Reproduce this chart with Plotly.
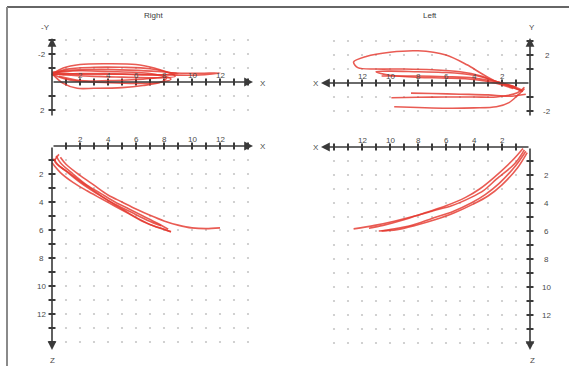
import plotly.graph_objects as go
import numpy as np

W, H = 569, 366
S = 14.0  # pixels per unit

titles = ["Right", "Left"]
even_ticks = [2, 4, 6, 8, 10, 12]

# ---- Right side, frontal view (X vs Y, Y positive downward, axis labelled -Y)
right_xy_x = [
    [0, 0.8, 2, 4, 6, 7.3, 8.3, 10, 12, 10.5, 8.5, 6, 4, 2, 0.5, 0],
    [0, 1, 3, 5, 7, 8.5, 8.8, 7.5, 5, 3, 1, 0],
    [0, 0.8, 1.8, 3, 5, 6.5, 7.8, 8.2, 6.5, 4, 2, 0.5],
    [0, 1, 2, 4, 6, 7.5, 8.5, 7, 4, 2, 0.5, 0],
    [0, 1.5, 3.5, 5.5, 7.5, 9, 7.5, 5, 3, 1, 0.2],
]
right_xy_y = [
    [-0.55, -1.0, -1.25, -1.3, -1.25, -1.0, -0.7, -0.62, -0.65, -0.5, -0.5, -0.55, -0.6, -0.6, -0.55, -0.5],
    [-0.5, -0.9, -1.05, -1.05, -0.95, -0.6, -0.4, -0.3, -0.35, -0.4, -0.5, -0.6],
    [-0.6, 0.1, 0.45, 0.45, 0.4, 0.25, 0.0, -0.3, -0.2, -0.1, -0.1, -0.4],
    [-0.55, -0.2, -0.05, 0.05, 0.1, 0.05, -0.2, -0.6, -0.75, -0.8, -0.7, -0.65],
    [-0.7, -0.85, -0.9, -0.85, -0.75, -0.6, -0.5, -0.55, -0.55, -0.6, -0.65],
]

# ---- Left side, frontal view (X to the left, Y positive upward)
left_xy_x = [
    [0.6, 1.3, 2.4, 3.5, 4.5, 6, 8, 10, 11.7, 12.6, 12.3, 11, 9, 7, 5, 3.5, 2.4, 1.3, 0.6],
    [0.5, 1.5, 2.5, 4, 6, 8, 10, 11, 10, 8, 6, 4, 2.5, 1.2],
    [0.4, 0.9, 2.4, 4, 6, 8, 9.9],
    [0.4, 0.9, 1.5, 2.4, 4, 6, 8, 9.7],
    [0.3, 1.5, 3, 5, 7, 8.5],
    [1, 2, 4, 6, 8, 10, 10.6],
]
left_xy_y = [
    [-0.5, -0.2, 0.1, 0.7, 1.3, 2.0, 2.3, 2.2, 1.9, 1.5, 1.1, 1.0, 1.0, 0.95, 0.8, 0.5, 0.1, -0.3, -0.55],
    [-0.6, -0.2, 0.15, 0.55, 0.75, 0.8, 0.85, 0.8, 0.55, 0.4, 0.35, 0.25, 0.0, -0.4],
    [-0.3, -0.7, -1.0, -1.0, -1.0, -1.02, -1.05],
    [-0.4, -0.9, -1.4, -1.7, -1.78, -1.8, -1.75, -1.7],
    [-0.8, -0.95, -0.85, -0.8, -0.75, -0.72],
    [-0.3, 0.0, 0.35, 0.45, 0.5, 0.5, 0.5],
]

# ---- Right side, sagittal view (X vs Z, Z downward)
right_xz_x = [
    [0.1, 0.5, 1.2, 2, 3, 4, 5, 6, 7, 8, 8.5],
    [0.3, 0.6, 1.5, 2.5, 3.5, 4.5, 5.5, 6.5, 7.5, 8.3],
    [0.6, 1, 2, 3, 4, 5, 6, 7, 8, 9, 10, 11, 12],
    [0, 0.6, 1.5, 2.5, 3.5, 4.5, 5.5, 6.5, 7.5, 8.5],
    [0.5, 0.2, 1.0, 2.0, 3.2, 4.4, 5.6, 6.8, 7.8],
]
right_xz_z = [
    [0.9, 1.4, 1.9, 2.5, 3.2, 3.9, 4.5, 5.1, 5.6, 5.95, 6.15],
    [0.7, 1.2, 2.0, 2.8, 3.4, 4.0, 4.5, 5.0, 5.5, 5.95],
    [0.8, 1.3, 2.1, 2.8, 3.5, 4.0, 4.5, 4.95, 5.35, 5.65, 5.85, 5.9, 5.85],
    [1.2, 1.9, 2.6, 3.2, 3.75, 4.3, 4.85, 5.4, 5.8, 6.1],
    [0.6, 1.1, 1.8, 2.6, 3.4, 4.1, 4.7, 5.3, 5.7],
]

# ---- Left side, sagittal view (X to the left, Z downward)
left_xz_x = [
    [0.4, 1.1, 2.4, 3.3, 4.2, 5.6, 6.9, 8.3, 9.7, 11.1, 12.6],
    [0.3, 1, 2.2, 3.2, 4.2, 5.5, 7, 8.5, 10, 10.6],
    [0.5, 1.3, 2.6, 3.6, 4.6, 6, 7.5, 9, 10.5, 11.5],
    [0.2, 0.9, 2, 3, 4.1, 5.4, 6.8, 8.2, 9.5, 10.8],
]
left_xz_z = [
    [0.2, 1.2, 2.3, 3.1, 3.6, 4.2, 4.55, 4.95, 5.3, 5.6, 5.85],
    [0.3, 1.3, 2.6, 3.4, 4.0, 4.6, 5.1, 5.6, 5.9, 6.0],
    [0.1, 1.0, 2.2, 3.0, 3.6, 4.2, 4.7, 5.2, 5.6, 5.8],
    [0.4, 1.5, 2.7, 3.5, 4.1, 4.7, 5.2, 5.6, 5.9, 6.0],
]

# panel geometry (pixels): plot box, origin, direction, axis extents
panels = [
    dict(box=(46, 260, 32, 122), origin=(52, 82), sx=1, sy=1,
         xtip=253, yfrom=117, ytip=38, yshift_lab=-10,
         xs=right_xy_x, ys=right_xy_y,
         ylabels=[-2, 2], yticks=[-3, -2, -1, 1, 2], grid_rows=[-3, -2, -1, 1, 2],
         xname=("X", 263, 83), yname=("-Y", 45, 28)),
    dict(box=(314, 536, 32, 122), origin=(530, 83), sx=-1, sy=-1,
         xtip=321, yfrom=117, ytip=38, yshift_lab=17,
         xs=left_xy_x, ys=left_xy_y,
         ylabels=[2, -2], yticks=[3, 2, 1, -1, -2], grid_rows=[3, 2, 1, -1, -2],
         xname=("X", 316, 83), yname=("Y", 532, 28)),
    dict(box=(46, 260, 140, 356), origin=(52, 146), sx=1, sy=1,
         xtip=253, yfrom=146, ytip=350, yshift_lab=-11,
         xs=right_xz_x, ys=right_xz_z,
         ylabels=even_ticks, yticks=list(range(1, 15)), grid_rows=list(range(1, 15)),
         xname=("X", 263, 146), yname=("Z", 52, 360)),
    dict(box=(314, 536, 141, 356), origin=(530, 147), sx=-1, sy=1,
         xtip=321, yfrom=147, ytip=350, yshift_lab=16,
         xs=left_xz_x, ys=left_xz_z,
         ylabels=even_ticks, yticks=list(range(1, 15)), grid_rows=list(range(1, 15)),
         xname=("X", 316, 147), yname=("Z", 532, 360)),
]

RED = "rgba(228,55,45,0.82)"
AX = "#3a3a3a"
FONT = "Liberation Sans"
TXT = "#4a4a4a"

fig = go.Figure()
layout = dict(width=W, height=H, margin=dict(l=0, r=0, t=0, b=0),
              paper_bgcolor="white", plot_bgcolor="rgba(0,0,0,0)",
              showlegend=False, annotations=[], shapes=[])

for i, p in enumerate(panels, start=1):
    xa = "xaxis" if i == 1 else f"xaxis{i}"
    ya = "yaxis" if i == 1 else f"yaxis{i}"
    xr = "x" if i == 1 else f"x{i}"
    yr = "y" if i == 1 else f"y{i}"
    L, R, T, B = p["box"]
    ox, oy = p["origin"]
    sx, sy = p["sx"], p["sy"]
    fx = lambda px: (px - ox) / (sx * S)
    fy = lambda py: (py - oy) / (sy * S)
    layout[xa] = dict(domain=[L / W, R / W], range=[fx(L), fx(R)], visible=False,
                      anchor=yr, fixedrange=True)
    layout[ya] = dict(domain=[1 - B / H, 1 - T / H], range=[fy(B), fy(T)], visible=False,
                      anchor=xr, fixedrange=True)

    # dotted grid
    gx, gy = np.meshgrid(np.arange(1, 15), p["grid_rows"])
    fig.add_trace(go.Scatter(x=gx.ravel(), y=gy.ravel(), xaxis=xr, yaxis=yr, mode="markers",
                             marker=dict(size=2.2, color="#c6c6c6"), hoverinfo="skip"))

    # axis lines with arrows
    xtip = fx(p["xtip"])
    layout["annotations"].append(dict(x=xtip, y=0, ax=0, ay=0, xref=xr, yref=yr, axref=xr, ayref=yr,
                                      text="", showarrow=True, arrowhead=2, arrowsize=1.1,
                                      arrowwidth=1.6, arrowcolor=AX))
    layout["annotations"].append(dict(x=0, y=fy(p["ytip"]), ax=0, ay=fy(p["yfrom"]), xref=xr, yref=yr,
                                      axref=xr, ayref=yr, text="", showarrow=True, arrowhead=2,
                                      arrowsize=1.1, arrowwidth=1.6, arrowcolor=AX))
    # tick marks
    fig.add_trace(go.Scatter(x=list(range(1, 15)), y=[0] * 14, xaxis=xr, yaxis=yr, mode="markers",
                             marker=dict(symbol="line-ns", size=5, line=dict(width=2, color=AX)),
                             hoverinfo="skip"))
    fig.add_trace(go.Scatter(x=[0] * len(p["yticks"]), y=p["yticks"], xaxis=xr, yaxis=yr, mode="markers",
                             marker=dict(symbol="line-ew", size=5, line=dict(width=2, color=AX)),
                             hoverinfo="skip"))
    # tick labels
    for v in even_ticks:
        layout["annotations"].append(dict(x=v, y=0, xref=xr, yref=yr, text=str(v), showarrow=False,
                                          xanchor="center", yanchor="middle",
                                          yshift=7, font=dict(family=FONT, size=8, color=TXT)))
    for v in p["ylabels"]:
        layout["annotations"].append(dict(x=0, y=v, xref=xr, yref=yr, text=str(v), showarrow=False,
                                          xanchor="center", yanchor="middle",
                                          xshift=p["yshift_lab"], font=dict(family=FONT, size=8, color=TXT)))
    # axis names
    for (t, px, py) in (p["xname"], p["yname"]):
        layout["annotations"].append(dict(x=px / W, y=1 - py / H, xref="paper", yref="paper", text=t,
                                          xanchor="center", yanchor="middle",
                                          showarrow=False, font=dict(family=FONT, size=8, color=TXT)))

    # motion traces
    for xs, ys in zip(p["xs"], p["ys"]):
        fig.add_trace(go.Scatter(x=xs, y=ys, xaxis=xr, yaxis=yr, mode="lines",
                                 line=dict(color=RED, width=1.6, shape="spline", smoothing=0.9),
                                 hoverinfo="skip"))

# titles
for t, px in zip(titles, (153, 430)):
    layout["annotations"].append(dict(x=px / W, y=1 - 15 / H, xref="paper", yref="paper", text=t,
                                      xanchor="center", yanchor="middle",
                                      showarrow=False, font=dict(family=FONT, size=8, color="#3c3c3c")))

# frame lines
layout["shapes"].append(dict(type="line", xref="paper", yref="paper", x0=7 / W, x1=1,
                             y0=1 - 7 / H, y1=1 - 7 / H, line=dict(color="#333", width=1.5)))
layout["shapes"].append(dict(type="line", xref="paper", yref="paper", x0=7 / W, x1=7 / W,
                             y0=0, y1=1 - 7 / H, line=dict(color="#8a8a8a", width=2)))

fig.update_layout(**layout)
fig.write_html("out.html", config={"displayModeBar": False},
               post_script="document.body.style.margin='0';document.body.style.overflow='hidden';")
